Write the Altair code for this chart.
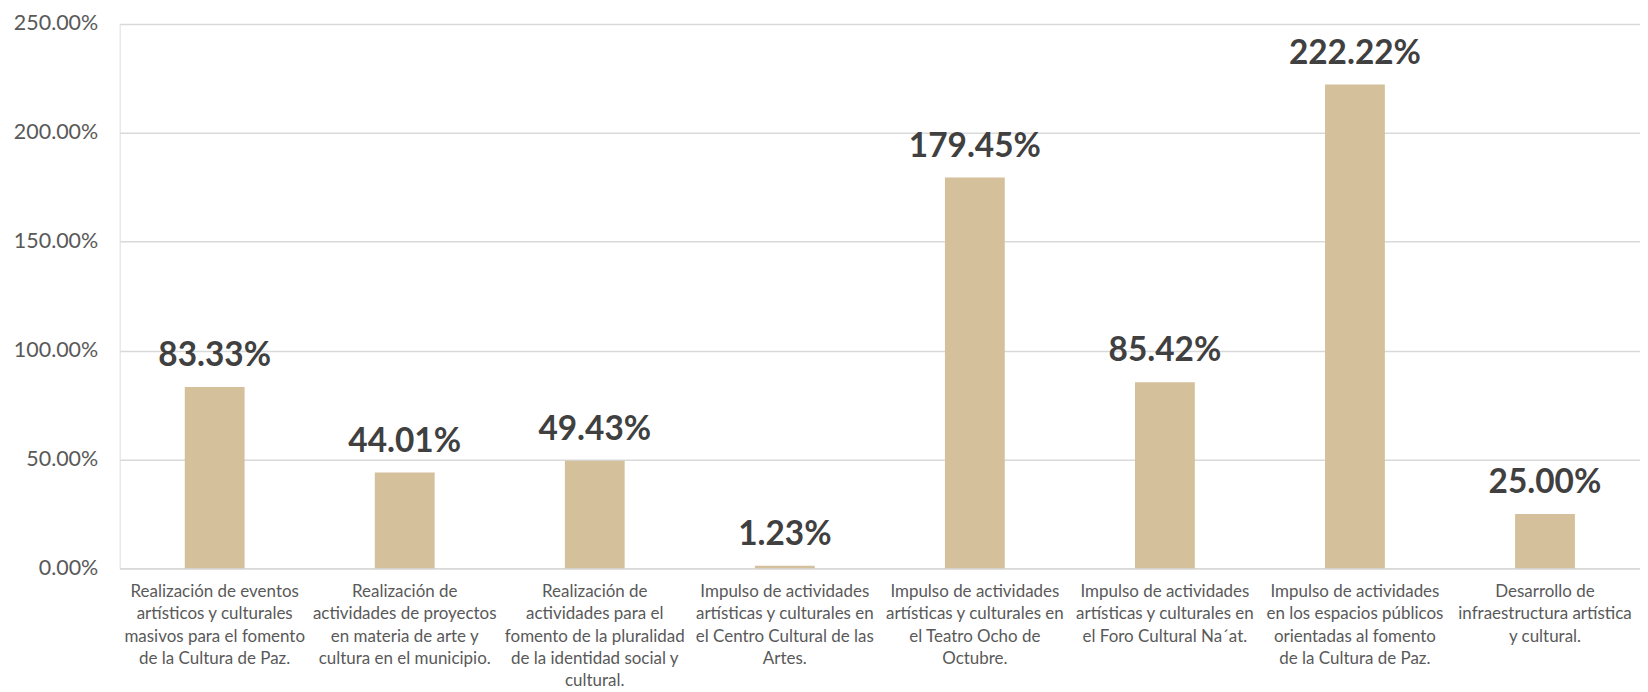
import altair as alt
import pandas as pd

categories = [
    "Realización de eventos|artísticos y culturales|masivos para el fomento|de la Cultura de Paz.",
    "Realización de|actividades de proyectos|en materia de arte y|cultura en el municipio.",
    "Realización de|actividades para el|fomento de la pluralidad|de la identidad social y|cultural.",
    "Impulso de actividades|artísticas y culturales en|el Centro Cultural de las|Artes.",
    "Impulso de actividades|artísticas y culturales en|el Teatro Ocho de|Octubre.",
    "Impulso de actividades|artísticas y culturales en|el Foro Cultural Na´at.",
    "Impulso de actividades|en los espacios públicos|orientadas al fomento|de la Cultura de Paz.",
    "Desarrollo de|infraestructura artística|y cultural.",
]
values = [0.8333, 0.4401, 0.4943, 0.0123, 1.7945, 0.8542, 2.2222, 0.2500]

df = pd.DataFrame({"cat": categories, "val": values})

FONT = "Lato"

x = alt.X("cat:N", sort=categories, title=None,
          scale=alt.Scale(paddingInner=0, paddingOuter=0),
          axis=alt.Axis(labelAngle=0, labelLimit=0, labelExpr="split(datum.label, '|')",
                        labelFontSize=17, labelColor="#595959", labelFont=FONT,
                        labelPadding=15, labelLineHeight=22.5, ticks=False,
                        domainColor="#D9D9D9", domainWidth=1.5, grid=False))
y = alt.Y("val:Q", title=None,
          scale=alt.Scale(domain=[0, 2.5], nice=False),
          axis=alt.Axis(format=".2%", values=[0, 0.5, 1, 1.5, 2, 2.5],
                        labelFontSize=21.5, labelColor="#595959", labelFont=FONT,
                        labelPadding=22, ticks=False, domain=False,
                        gridColor="#D9D9D9", gridWidth=1.5))

bars = alt.Chart(df).mark_bar(size=60, color="#D4C09A").encode(x=x, y=y)
labels = alt.Chart(df).mark_text(
    font=FONT, fontSize=33.5, fontWeight="bold", color="#404040",
    baseline="alphabetic", dy=-21
).encode(x=alt.X("cat:N", sort=categories), y="val:Q", text=alt.Text("val:Q", format=".2%"))

chart = (bars + labels).properties(
    width=1525, height=546,
    autosize=alt.AutoSizeParams(type="none"),
    padding={"left": 112, "top": 15, "right": 0, "bottom": 121},
).configure_view(stroke=None).configure(background="white")

chart.save("out.html", embed_options={"renderer": "svg", "actions": False})
